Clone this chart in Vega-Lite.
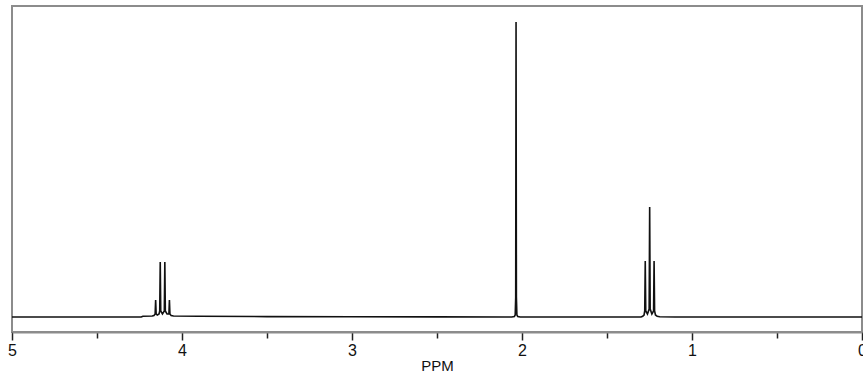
{
  "$schema": "https://vega.github.io/schema/vega-lite/v6.json",
  "width": 850,
  "height": 326,
  "autosize": {"type": "none"},
  "padding": {"left": 12, "top": 6, "right": 1, "bottom": 42},
  "background": "white",
  "config": {
    "view": {"stroke": "#8c8c8c", "strokeWidth": 2},
    "font": "Liberation Sans"
  },
  "data": {
    "values": [
      {"ppm": 5.0, "i": 0},
      {"ppm": 4.3, "i": 0},
      {"ppm": 4.24, "i": 0},
      {"ppm": 4.23, "i": 0.8},
      {"ppm": 4.175, "i": 1},
      {"ppm": 4.165, "i": 1.5},
      {"ppm": 4.158, "i": 3},
      {"ppm": 4.155, "i": 17},
      {"ppm": 4.152, "i": 3},
      {"ppm": 4.145, "i": 2},
      {"ppm": 4.135, "i": 3},
      {"ppm": 4.131, "i": 6},
      {"ppm": 4.128, "i": 55},
      {"ppm": 4.125, "i": 6},
      {"ppm": 4.115, "i": 3},
      {"ppm": 4.104, "i": 6},
      {"ppm": 4.101, "i": 55},
      {"ppm": 4.098, "i": 6},
      {"ppm": 4.088, "i": 3},
      {"ppm": 4.077, "i": 3},
      {"ppm": 4.074, "i": 17},
      {"ppm": 4.071, "i": 3},
      {"ppm": 4.064, "i": 1.5},
      {"ppm": 4.05, "i": 1},
      {"ppm": 3.9, "i": 0.7},
      {"ppm": 3.5, "i": 0.4},
      {"ppm": 3.0, "i": 0.2},
      {"ppm": 2.5, "i": 0.1},
      {"ppm": 2.1, "i": 0},
      {"ppm": 2.06, "i": 0},
      {"ppm": 2.045, "i": 0.5},
      {"ppm": 2.04, "i": 2},
      {"ppm": 2.037, "i": 20},
      {"ppm": 2.035, "i": 295},
      {"ppm": 2.033, "i": 20},
      {"ppm": 2.03, "i": 2},
      {"ppm": 2.025, "i": 0.5},
      {"ppm": 2.01, "i": 0},
      {"ppm": 1.4, "i": 0},
      {"ppm": 1.3, "i": 0},
      {"ppm": 1.29, "i": 0.8},
      {"ppm": 1.282, "i": 2},
      {"ppm": 1.278, "i": 6},
      {"ppm": 1.275, "i": 56},
      {"ppm": 1.272, "i": 6},
      {"ppm": 1.262, "i": 3},
      {"ppm": 1.252, "i": 8},
      {"ppm": 1.249, "i": 110},
      {"ppm": 1.246, "i": 8},
      {"ppm": 1.236, "i": 3},
      {"ppm": 1.226, "i": 6},
      {"ppm": 1.223, "i": 56},
      {"ppm": 1.22, "i": 6},
      {"ppm": 1.215, "i": 2},
      {"ppm": 1.205, "i": 0.8},
      {"ppm": 1.19, "i": 0.3},
      {"ppm": 1.1, "i": 0},
      {"ppm": 0.0, "i": 0}
    ]
  },
  "mark": {"type": "line", "color": "#111111", "strokeWidth": 1.6, "interpolate": "linear", "clip": true},
  "encoding": {
    "x": {
      "field": "ppm",
      "type": "quantitative",
      "scale": {"domain": [0, 5], "reverse": true, "nice": false, "zero": false},
      "axis": {
        "title": "PPM",
        "values": [0, 0.5, 1, 1.5, 2, 2.5, 3, 3.5, 4, 4.5, 5],
        "labelExpr": "datum.value % 1 === 0 ? format(datum.value, 'd') : ''",
        "labelFlush": false,
        "labelOverlap": false,
        "labelBound": false,
        "labelFontSize": 16,
        "labelColor": "#111111",
        "labelPadding": 2,
        "tickSize": {"condition": {"test": "datum.value % 1 === 0", "value": 8}, "value": 6},
        "tickColor": "#222222",
        "tickWidth": 1.5,
        "domainColor": "#8c8c8c",
        "domainWidth": 2,
        "grid": false,
        "titleFontSize": 15,
        "titleFontWeight": "normal",
        "titleColor": "#111111",
        "titlePadding": 0
      }
    },
    "y": {
      "field": "i",
      "type": "quantitative",
      "scale": {"domain": [-15, 311], "nice": false, "zero": false},
      "axis": null
    }
  }
}
